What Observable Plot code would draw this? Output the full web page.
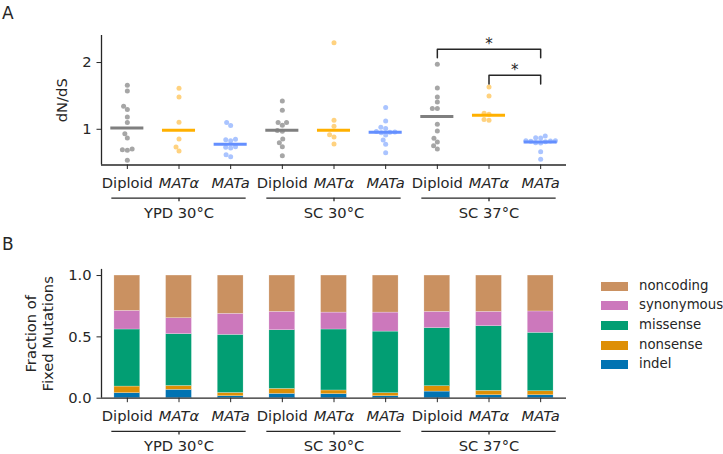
<!DOCTYPE html>
<html><head><meta charset="utf-8">
<script src="https://cdn.jsdelivr.net/npm/d3@7"></script>
<script src="https://cdn.jsdelivr.net/npm/@observablehq/plot@0.6"></script>
<style>
body{margin:0;background:#fff;}
#fig{position:relative;width:723px;height:454px;font-family:"DejaVu Sans",sans-serif;color:#262626;overflow:hidden;}
#fig svg{position:absolute;left:0;}
.plabel{position:absolute;font-size:17px;line-height:1;}
.leg{position:absolute;font-size:13.3px;}
.leg .row{position:absolute;left:0;white-space:nowrap;}
.leg .sw{position:absolute;left:0;width:27px;height:9px;}
.leg .tx{position:absolute;left:38px;line-height:1;}
</style></head><body><div id="fig"></div>
<script>
// ---------- data ----------
const strains = ["Diploid", "MATα", "MATa"];
const conditions = ["YPD 30°C", "SC 30°C", "SC 37°C"];

// dN/dS per population (panel A)
const dnds_YPD30_Diploid = [1.66, 1.575, 1.345, 1.295, 1.185, 1.10, 0.935, 0.87, 0.695, 0.685, 0.705, 0.535];
const dnds_YPD30_MATalpha = [1.615, 1.485, 1.105, 0.855, 0.735, 0.675];
const dnds_YPD30_MATa = [1.10, 1.055, 0.83, 0.845, 0.85, 0.73, 0.72, 0.74, 0.62, 0.59];
const dnds_SC30_Diploid = [1.425, 1.285, 1.10, 1.10, 1.06, 0.98, 0.97, 0.855, 0.80, 0.74, 0.605];
const dnds_SC30_MATalpha = [2.295, 1.135, 1.045, 0.92, 0.885, 0.78];
const dnds_SC30_MATa = [1.325, 1.125, 1.03, 1.01, 0.965, 0.96, 0.955, 0.95, 0.915, 0.84, 0.775, 0.65];
const dnds_SC37_Diploid = [1.975, 1.62, 1.485, 1.41, 1.31, 1.31, 1.075, 0.975, 0.865, 0.81, 0.755, 0.705];
const dnds_SC37_MATalpha = [1.635, 1.50, 1.24, 1.225, 1.145, 1.135];
const dnds_SC37_MATa = [0.90, 0.875, 0.87, 0.83, 0.83, 0.825, 0.82, 0.815, 0.80, 0.795, 0.665, 0.55];
const dndsMedians = [1.02, 0.985, 0.775, 0.985, 0.985, 0.955, 1.19, 1.21, 0.81];

const strainDotColors = ["#a6a6a6", "#ffd27f", "#aac4ff"];
const strainLineColors = ["#7f7f7f", "#ffb000", "#648fff"];

// significance brackets: from/to category index, base y, height
const brackets = [
  {from: 6, to: 8, y: 2.07, h: 0.13, label: "*"},
  {from: 7, to: 8, y: 1.68, h: 0.13, label: "*"}
];

// fraction of fixed mutations (panel B), bottom -> top
const mutationTypes = ["indel", "nonsense", "missense", "synonymous", "noncoding"];
const typeColors = ["#0173b2", "#de8f05", "#029e73", "#cc78bc", "#ca9161"];
const frac_indel      = [0.041, 0.068, 0.016, 0.035, 0.033, 0.016, 0.054, 0.024, 0.024];
const frac_nonsense   = [0.054, 0.032, 0.027, 0.041, 0.030, 0.025, 0.044, 0.036, 0.033];
const frac_missense   = [0.465, 0.422, 0.473, 0.478, 0.497, 0.502, 0.473, 0.527, 0.476];
const frac_synonymous = [0.152, 0.130, 0.172, 0.150, 0.138, 0.155, 0.133, 0.117, 0.174];
const frac_noncoding  = [0.288, 0.348, 0.312, 0.296, 0.302, 0.302, 0.296, 0.296, 0.293];

const yTicksA = [1, 2];
const yTicksB = [0, 0.5, 1.0];
const yLabelA = "dN/dS";
const yLabelB = "Fraction of\nFixed Mutations";

// ---------- build tables ----------
const dndsGroups = [dnds_YPD30_Diploid, dnds_YPD30_MATalpha, dnds_YPD30_MATa,
  dnds_SC30_Diploid, dnds_SC30_MATalpha, dnds_SC30_MATa,
  dnds_SC37_Diploid, dnds_SC37_MATalpha, dnds_SC37_MATa];
const cats = d3.range(9).map(i => ({i, s: i % 3, c: Math.floor(i / 3), label: strains[i % 3]}));
const groups = conditions.map((name, c) => ({name, start: c * 3, end: c * 3 + 2, center: c * 3 + 1}));
const fracs = [frac_indel, frac_nonsense, frac_missense, frac_synonymous, frac_noncoding];

const W = 723, ML = 101, MR = 157;
const font = "'DejaVu Sans', sans-serif";
const ink = "#262626";
const fs = 14.7;

// Panel A layout
const hA = 228, mtA = 35, mbA = 63.5;
const yDomA = [0.465, 2.405];
const xDom = [-0.5, 8.5];
const pxPerX = (W - ML - MR) / (xDom[1] - xDom[0]);
const pxPerY = (hA - mtA - mbA) / (yDomA[1] - yDomA[0]);

// beeswarm (seaborn-like) offsets in category units
function swarm(values, D) {
  const pts = values.map((v, k) => ({v, k})).sort((a, b) => a.v - b.v);
  const placed = [];
  for (const p of pts) {
    const py = p.v * pxPerY;
    const cands = [0];
    for (const q of placed) {
      const dy = py - q.py;
      if (Math.abs(dy) < D) {
        const dx = Math.sqrt(D * D - dy * dy);
        cands.push(q.px + dx, q.px - dx);
      }
    }
    cands.sort((a, b) => Math.abs(a) - Math.abs(b) || a - b);
    const best = cands.find(c => placed.every(q => (c - q.px) ** 2 + (py - q.py) ** 2 >= D * D - 1e-6));
    p.px = best; p.py = py; placed.push(p);
  }
  const off = [];
  for (const p of pts) off[p.k] = p.px / pxPerX;
  return off;
}

const points = [];
dndsGroups.forEach((vals, i) => {
  const off = swarm(vals, 5.0);
  vals.forEach((v, k) => points.push({i, s: i % 3, v, off: off[k]}));
});
const medianRows = dndsMedians.map((m, i) => ({i, s: i % 3, m}));
const bracketPts = brackets.flatMap((b, id) => [
  {id, x: b.from, y: b.y}, {id, x: b.from, y: b.y + b.h},
  {id, x: b.to, y: b.y + b.h}, {id, x: b.to, y: b.y}]);

const plainTicks = cats.filter(d => d.s === 0).map(d => d.i);
const italicTicks = cats.filter(d => d.s !== 0).map(d => d.i);

function xAxes(yLoFn) {
  return [
    Plot.axisX({ticks: plainTicks, tickFormat: i => cats[i].label, tickSize: 4.5, tickPadding: 8, fontSize: fs, label: null}),
    Plot.axisX({ticks: italicTicks, tickFormat: i => cats[i].label, tickSize: 4.5, tickPadding: 8, fontSize: fs, fontStyle: "italic", label: null}),
    Plot.ruleY(groups, {y: yLoFn, x1: g => g.start - 0.3, x2: g => g.end + 0.3, dy: 33.2, stroke: ink, strokeWidth: 1.3}),
    Plot.ruleX(groups, {x: "center", y1: yLoFn, y2: yLoFn, dy: 33.2, insetBottom: -3.5, stroke: ink, strokeWidth: 1.3}),
    Plot.text(groups, {x: "center", frameAnchor: "bottom", text: "name", dy: 42.3, lineAnchor: "top", fontSize: fs, fill: ink})
  ];
}

const plotStyle = {fontFamily: font, fontSize: fs + "px", color: ink, background: "transparent", overflow: "visible"};

const chartA = Plot.plot({
  width: W, height: hA,
  marginLeft: ML, marginRight: MR, marginTop: mtA, marginBottom: mbA,
  style: plotStyle,
  x: {type: "linear", domain: xDom},
  y: {domain: yDomA},
  color: {type: "identity"},
  marks: [
    Plot.dot(points, {x: d => d.i + d.off, y: "v", r: 2.5, fill: d => strainDotColors[d.s], stroke: "none"}),
    Plot.ruleY(medianRows, {y: "m", x1: d => d.i - 0.32, x2: d => d.i + 0.32, stroke: d => strainLineColors[d.s], strokeWidth: 3}),
    Plot.line(bracketPts, {x: "x", y: "y", z: "id", stroke: ink, strokeWidth: 1.5}),
    Plot.text(brackets, {x: b => (b.from + b.to) / 2, y: b => b.y + b.h, text: "label", lineAnchor: "bottom", fontSize: 15, fill: ink}),
    Plot.axisY({ticks: yTicksA, tickFormat: d3.format("d"), tickSize: 4.5, tickPadding: 5.5, fontSize: fs, label: null}),
    Plot.ruleX([xDom[0]], {stroke: ink, strokeWidth: 1.3}),
    Plot.ruleY([yDomA[0]], {stroke: ink, strokeWidth: 1.3}),
    ...xAxes(() => yDomA[0]),
    Plot.text([yLabelA], {frameAnchor: "left", textAnchor: "middle", rotate: -90, dx: -39, fontSize: fs, fill: ink})
  ]
});

// Panel B
const hB = 226, mtB = 40.9, mbB = 56.3;
const yDomB = [0, 1.05];
const stackRows = [];
cats.forEach(({i}) => {
  let acc = 0;
  fracs.forEach((arr, t) => {
    stackRows.push({i, type: mutationTypes[t], color: typeColors[t], y1: acc, y2: acc + arr[i]});
    acc += arr[i];
  });
});

const chartB = Plot.plot({
  width: W, height: hB,
  marginLeft: ML, marginRight: MR, marginTop: mtB, marginBottom: mbB,
  style: plotStyle,
  x: {type: "linear", domain: xDom},
  y: {domain: yDomB},
  color: {type: "identity"},
  marks: [
    Plot.rect(stackRows, {x1: d => d.i - 0.25, x2: d => d.i + 0.25, y1: "y1", y2: "y2", fill: "color", stroke: "white", strokeWidth: 0.4, strokeOpacity: 0.6}),
    Plot.axisY({ticks: yTicksB, tickFormat: d3.format(".1f"), tickSize: 4.5, tickPadding: 5.5, fontSize: fs, label: null}),
    Plot.ruleX([xDom[0]], {stroke: ink, strokeWidth: 1.3}),
    Plot.ruleY([yDomB[0]], {stroke: ink, strokeWidth: 1.3}),
    ...xAxes(() => yDomB[0]),
    Plot.text([yLabelB], {frameAnchor: "left", textAnchor: "middle", rotate: -90, dx: -62.5, lineHeight: 1.2, fontSize: fs, fill: ink})
  ]
});

const fig = document.getElementById("fig");
chartA.style.top = "0px";
chartB.style.top = hA + "px";
fig.appendChild(chartA);
fig.appendChild(chartB);

// panel letters
[["A", 2, 4.7], ["B", 2, 236]].forEach(([t, x, y]) => {
  const d = document.createElement("div");
  d.className = "plabel"; d.textContent = t;
  d.style.left = x + "px"; d.style.top = y + "px";
  fig.appendChild(d);
});

// legend (top -> bottom is reverse of stack order)
const leg = document.createElement("div");
leg.className = "leg"; leg.style.left = "601px"; leg.style.top = "281.5px";
mutationTypes.slice().reverse().forEach((t, k) => {
  const row = document.createElement("div");
  row.className = "row"; row.style.top = (k * 19.7) + "px";
  const sw = document.createElement("div");
  sw.className = "sw"; sw.style.background = typeColors[mutationTypes.indexOf(t)];
  const tx = document.createElement("div");
  tx.className = "tx"; tx.textContent = t; tx.style.top = "-3px";
  row.appendChild(sw); row.appendChild(tx); leg.appendChild(row);
});
fig.appendChild(leg);
</script></body></html>
